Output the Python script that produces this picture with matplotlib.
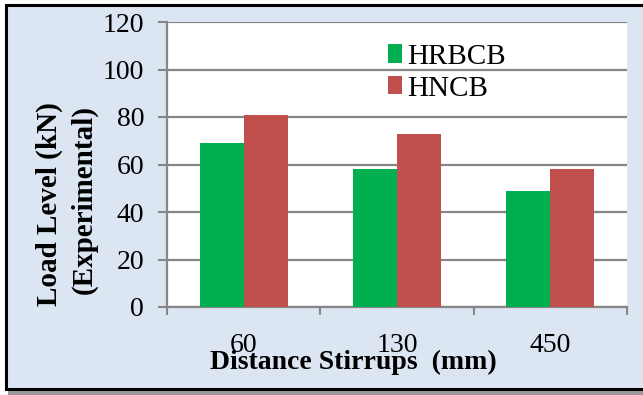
import numpy as np
import matplotlib
matplotlib.use("Agg")
import matplotlib.pyplot as plt
from matplotlib.patches import Rectangle

# 数据
categories = ["60", "130", "450"]
hrbcb = [69, 58, 49]
hncb = [81, 73, 58]
series_names = ["HRBCB", "HNCB"]
yticks = [0, 20, 40, 60, 80, 100, 120]

W, H = 643, 395
fig = plt.figure(figsize=(W / 100, H / 100), dpi=100)
fig.patch.set_facecolor("white")
plt.rcParams["font.family"] = ["Liberation Serif", "DejaVu Serif"]

# 外框 + 阴影
shadow = Rectangle((8 / W, 0), 1.0, 391 / H, transform=fig.transFigure,
                   facecolor="#9a9a9a", edgecolor="none", zorder=-3)
frame = Rectangle((6 / W, (H - 388.5) / H), 1.0, (388.5 - 5) / H,
                  transform=fig.transFigure, facecolor="#DCE6F2",
                  edgecolor="black", linewidth=2.2, zorder=-2)
fig.patches.extend([shadow, frame])

ax = fig.add_axes([167 / W, (H - 307) / H, (627 - 167) / W, (307 - 22) / H])
ax.set_facecolor("white")

x = np.arange(len(categories))
bw = 0.288
green = "#00B050"
red = "#C0504D"
ax.bar(x - bw / 2, hrbcb, bw, color=green, label=series_names[0], zorder=3)
ax.bar(x + bw / 2, hncb, bw, color=red, label=series_names[1], zorder=3)

grid_c = "#868686"
ax.set_ylim(0, 120)
ax.set_xlim(-0.5, len(categories) - 0.5)
ax.set_yticks(yticks)
ax.yaxis.grid(True, color=grid_c, linewidth=1.6, zorder=1)
ax.set_axisbelow(True)

# x 轴: 分类边界处刻度, 标签在中间
ax.set_xticks(np.arange(-0.5, len(categories)))
ax.set_xticklabels([])
ax.set_xticks(x, minor=True)
ax.set_xticklabels(categories, minor=True)
ax.tick_params(axis="x", which="major", direction="out", length=6,
               width=1.5, color=grid_c)
ax.tick_params(axis="x", which="minor", length=0, pad=19, labelsize=20)
ax.tick_params(axis="y", direction="out", length=6.5, width=1.5,
               color=grid_c, labelsize=20, pad=10)

for side in ["top", "right"]:
    ax.spines[side].set_visible(False)
for side in ["left", "bottom"]:
    ax.spines[side].set_color(grid_c)
    ax.spines[side].set_linewidth(1.6)

# 轴标题
fig.text(353 / W, (H - 362) / H, "Distance Stirrups  (mm)", ha="center",
         va="center", fontsize=20, fontweight="bold")
fig.text(49 / W, (H - 204) / H, "Load Level (kN)", rotation=90,
         ha="center", va="center", fontsize=21, fontweight="bold")
fig.text(84 / W, (H - 200) / H, "(Experimental)", rotation=90,
         ha="center", va="center", fontsize=21, fontweight="bold")

# 图例
ax.legend(loc="upper left", bbox_to_anchor=((376 - 167) / (627 - 167), 1 - 10 / 285),
          frameon=False, fontsize=21, handlelength=0.48, handleheight=0.6,
          handletextpad=0.2, labelspacing=0.2, borderaxespad=0)

fig.savefig("out.png", dpi=100)
